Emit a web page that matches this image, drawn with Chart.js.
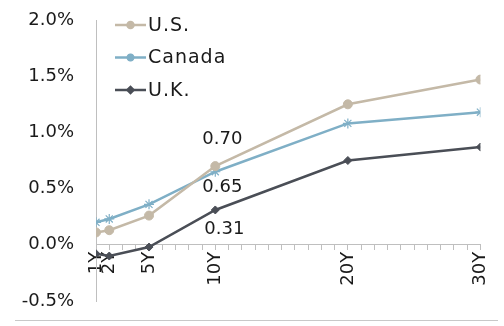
<!DOCTYPE html>
<html>
<head>
<meta charset="utf-8">
<script src="https://cdn.jsdelivr.net/npm/chart.js@4/dist/chart.umd.min.js"></script>
<style>
  html, body { margin: 0; padding: 0; background: #fff; }
  #wrap { width: 504px; height: 326px; position: relative; }
</style>
</head>
<body>
<div id="wrap"><canvas id="c" width="504" height="326"></canvas></div>
<script>
// Government bond yield curves by maturity (years)
const maturities = [1, 2, 5, 10, 20, 30];
const maturityLabels = ['1Y', '2Y', '5Y', '10Y', '20Y', '30Y'];
const seriesNames = ['U.S.', 'Canada', 'U.K.'];
const usYields = [0.11, 0.13, 0.26, 0.70, 1.25, 1.47];
const canadaYields = [0.20, 0.23, 0.36, 0.65, 1.08, 1.18];
const ukYields = [-0.08, -0.10, -0.02, 0.31, 0.75, 0.87];
const yTicks = [-0.5, 0.0, 0.5, 1.0, 1.5, 2.0];

// 10Y values called out on the chart
const callouts = [
  { series: 0, index: 3, dx: 7, dy: -27 },
  { series: 1, index: 3, dx: 7, dy: 16 },
  { series: 2, index: 3, dx: 9, dy: 19 }
];

const FONT = 'DejaVu Sans';
const TEXT = '#1a1a1a';
const colors = ['#c4b9a7', '#7fafc6', '#4a4e56'];
const styles = ['circle', 'star', 'rectRot'];
const radii = [4.5, 5, 4];

const toPoints = arr => maturities.map((m, i) => ({ x: m, y: arr[i] }));
const allSeries = [usYields, canadaYields, ukYields];

const datasets = allSeries.map((vals, k) => ({
  label: seriesNames[k],
  data: toPoints(vals),
  borderColor: colors[k],
  backgroundColor: colors[k],
  pointBackgroundColor: colors[k],
  pointBorderColor: colors[k],
  pointStyle: styles[k],
  pointRadius: radii[k],
  pointBorderWidth: k === 1 ? 1.2 : 1,
  borderWidth: 2.5,
  tension: 0
}));

const overlay = {
  id: 'overlay',
  afterDatasetsDraw(chart) {
    const ctx = chart.ctx;
    const xs = chart.scales.x, ys = chart.scales.y;
    ctx.save();
    // value callouts
    ctx.font = '18px "' + FONT + '"';
    ctx.fillStyle = TEXT;
    ctx.textAlign = 'center';
    ctx.textBaseline = 'middle';
    callouts.forEach(c => {
      const v = allSeries[c.series][c.index];
      const px = xs.getPixelForValue(maturities[c.index]);
      const py = ys.getPixelForValue(v);
      ctx.fillText(v.toFixed(2), px + c.dx, py + c.dy);
    });
    // legend: line with marker, then name
    ctx.textAlign = 'left';
    ctx.font = '19px "' + FONT + '"';
    seriesNames.forEach((name, k) => {
      const y = 25 + k * 32.5;
      const x0 = 115, x1 = 146;
      ctx.strokeStyle = colors[k];
      ctx.lineWidth = 2.5;
      ctx.beginPath();
      ctx.moveTo(x0, y);
      ctx.lineTo(x1, y);
      ctx.stroke();
      ctx.fillStyle = colors[k];
      Chart.helpers.drawPoint(ctx, {
        pointStyle: styles[k], radius: k === 1 ? 4 : 3, borderWidth: 1
      }, (x0 + x1) / 2, y);
      ctx.fillStyle = TEXT;
      ctx.letterSpacing = '1px';
      ctx.fillText(name, 148, y + 1);
      ctx.letterSpacing = '0px';
    });
    // bottom rule
    ctx.strokeStyle = '#c8c8c8';
    ctx.lineWidth = 1;
    ctx.beginPath();
    ctx.moveTo(15, 320.5);
    ctx.lineTo(498, 320.5);
    ctx.stroke();
    ctx.restore();
  }
};

new Chart(document.getElementById('c'), {
  type: 'line',
  data: { datasets },
  options: {
    responsive: false,
    animation: false,
    layout: { padding: { left: 0, right: 19, top: 20, bottom: 25 } },
    plugins: { legend: { display: false }, tooltip: { enabled: false } },
    scales: {
      x: {
        type: 'linear',
        position: { y: 0 },
        min: 1,
        max: 30,
        afterBuildTicks: s => {
          const t = [];
          for (let v = 1; v <= 30; v++) t.push({ value: v });
          s.ticks = t;
        },
        ticks: {
          autoSkip: false,
          minRotation: 90,
          maxRotation: 90,
          padding: 2,
          color: TEXT,
          font: { family: FONT, size: 18 },
          callback: v => {
            const i = maturities.indexOf(v);
            return i >= 0 ? maturityLabels[i] : '';
          }
        },
        grid: { drawOnChartArea: false, drawTicks: true, tickLength: 5, color: '#bfbfbf' },
        border: { display: true, color: '#bfbfbf', width: 1 }
      },
      y: {
        min: -0.5,
        max: 2.0,
        afterBuildTicks: s => { s.ticks = yTicks.map(v => ({ value: v })); },
        afterFit: s => { s.width = 96; s.paddingTop = 0; s.paddingBottom = 0; },
        ticks: {
          padding: 14,
          color: TEXT,
          font: { family: FONT, size: 18 },
          callback: v => v.toFixed(1) + '%'
        },
        grid: { display: false },
        border: { display: true, color: '#bfbfbf', width: 1 }
      }
    }
  },
  plugins: [overlay]
});
</script>
</body>
</html>
